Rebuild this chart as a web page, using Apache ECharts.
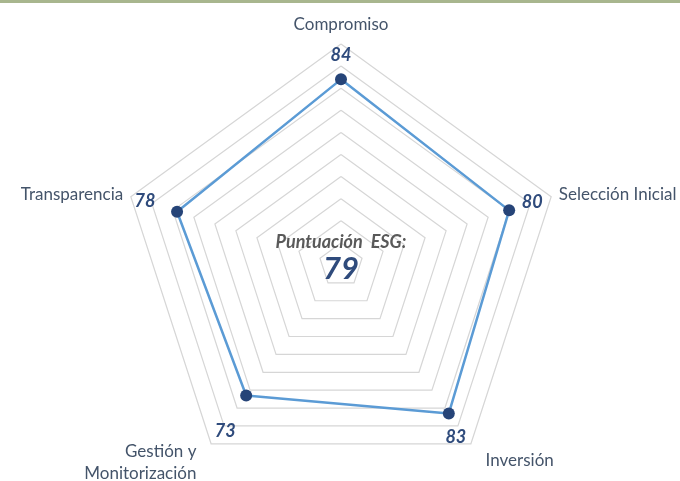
<!DOCTYPE html>
<html>
<head>
<meta charset="utf-8">
<script src="https://cdn.jsdelivr.net/npm/echarts@6/dist/echarts.min.js"></script>
<style>
  html, body { margin: 0; padding: 0; background: #fff; }
  #wrap { position: relative; width: 680px; height: 481px; }
  #chart { width: 680px; height: 481px; }
  #bar { position: absolute; left: 0; top: 0; width: 680px; height: 3px; background: #a8b68e; }
</style>
</head>
<body>
<div id="wrap">
  <div id="chart"></div>
  <div id="bar"></div>
</div>
<script>
// categories clockwise from the top
const categories = ["Compromiso", "Selección Inicial", "Inversión", "Gestión y\nMonitorización", "Transparencia"];
const scores = [84, 80, 83, 73, 78];
const esgScore = 79;
const scoreMax = 100;
const ringCount = 10;

// echarts radar runs counterclockwise, so walk the arrays backwards after the first one
const order = [0, 4, 3, 2, 1];
const indicator = order.map(function (i) {
  return { name: categories[i], max: scoreMax, min: 0 };
});
const values = order.map(function (i) { return scores[i]; });

// label nudges per point (index in clockwise order), padding = [top, right, bottom, left]
const labelRich = {
  p0: { padding: [0, 0, 48, 0] },
  p1: { padding: [0, 0, 16, 46] },
  p2: { padding: [48, 0, 0, 14] },
  p3: { padding: [72, 42, 0, 0] },
  p4: { padding: [0, 64, 22, 0] }
};
Object.keys(labelRich).forEach(function (k) {
  Object.assign(labelRich[k], {
    color: "#2f4b7c",
    fontSize: 18,
    fontStyle: "italic",
    fontWeight: "bold",
    fontFamily: "Lato"
  });
});

// axis name nudges
const nameStyle = { color: "#44546a", fontSize: 17, fontFamily: "Lato", lineHeight: 22 };
const nameRich = {
  n: Object.assign({}, nameStyle),
  n2: Object.assign({ padding: [20, 0, 0, 10] }, nameStyle),
  g: Object.assign({ padding: [0, 10, 0, 0] }, nameStyle),
  sp: { fontSize: 8, lineHeight: 24 }
};

const chart = echarts.init(document.getElementById("chart"));
chart.setOption({
  animation: false,
  title: {
    text: "Puntuación  ESG:",
    subtext: String(esgScore),
    left: 336,
    textAlign: "center",
    top: 228,
    itemGap: 2,
    textStyle: {
      color: "#595959",
      fontSize: 18,
      fontStyle: "italic",
      fontWeight: "bold",
      fontFamily: "Lato"
    },
    subtextStyle: {
      color: "#2f4b7c",
      fontSize: 31,
      fontStyle: "italic",
      fontWeight: "bold",
      fontFamily: "Lato"
    }
  },
  radar: {
    center: [341, 265],
    radius: 221,
    startAngle: 90,
    splitNumber: ringCount,
    shape: "polygon",
    indicator: indicator,
    nameGap: 8,
    axisName: {
      color: "#44546a",
      fontSize: 17,
      fontFamily: "Lato",
      lineHeight: 22,
      formatter: function (name) {
        if (name === categories[2]) return "{n2|" + name + "}";
        if (name === categories[3]) {
          const parts = name.split("\n");
          return "{sp| }\n{g|" + parts[0] + "}\n{g|" + parts[1] + "}";
        }
        return "{n|" + name + "}";
      },
      rich: nameRich
    },
    axisLine: { show: false },
    axisTick: { show: false },
    splitArea: { show: false },
    splitLine: {
      lineStyle: { color: "#d6d6d6", width: 1.2 }
    }
  },
  series: [
    {
      type: "radar",
      symbol: "circle",
      symbolSize: 12,
      lineStyle: { color: "#5b9bd5", width: 2.5 },
      itemStyle: { color: "#264478" },
      label: {
        show: true,
        position: "inside",
        formatter: function (p) {
          const i = scores.indexOf(p.value);
          return "{p" + i + "|" + p.value + "}";
        },
        rich: labelRich
      },
      data: [{ value: values, name: "ESG" }]
    }
  ]
});
</script>
</body>
</html>
